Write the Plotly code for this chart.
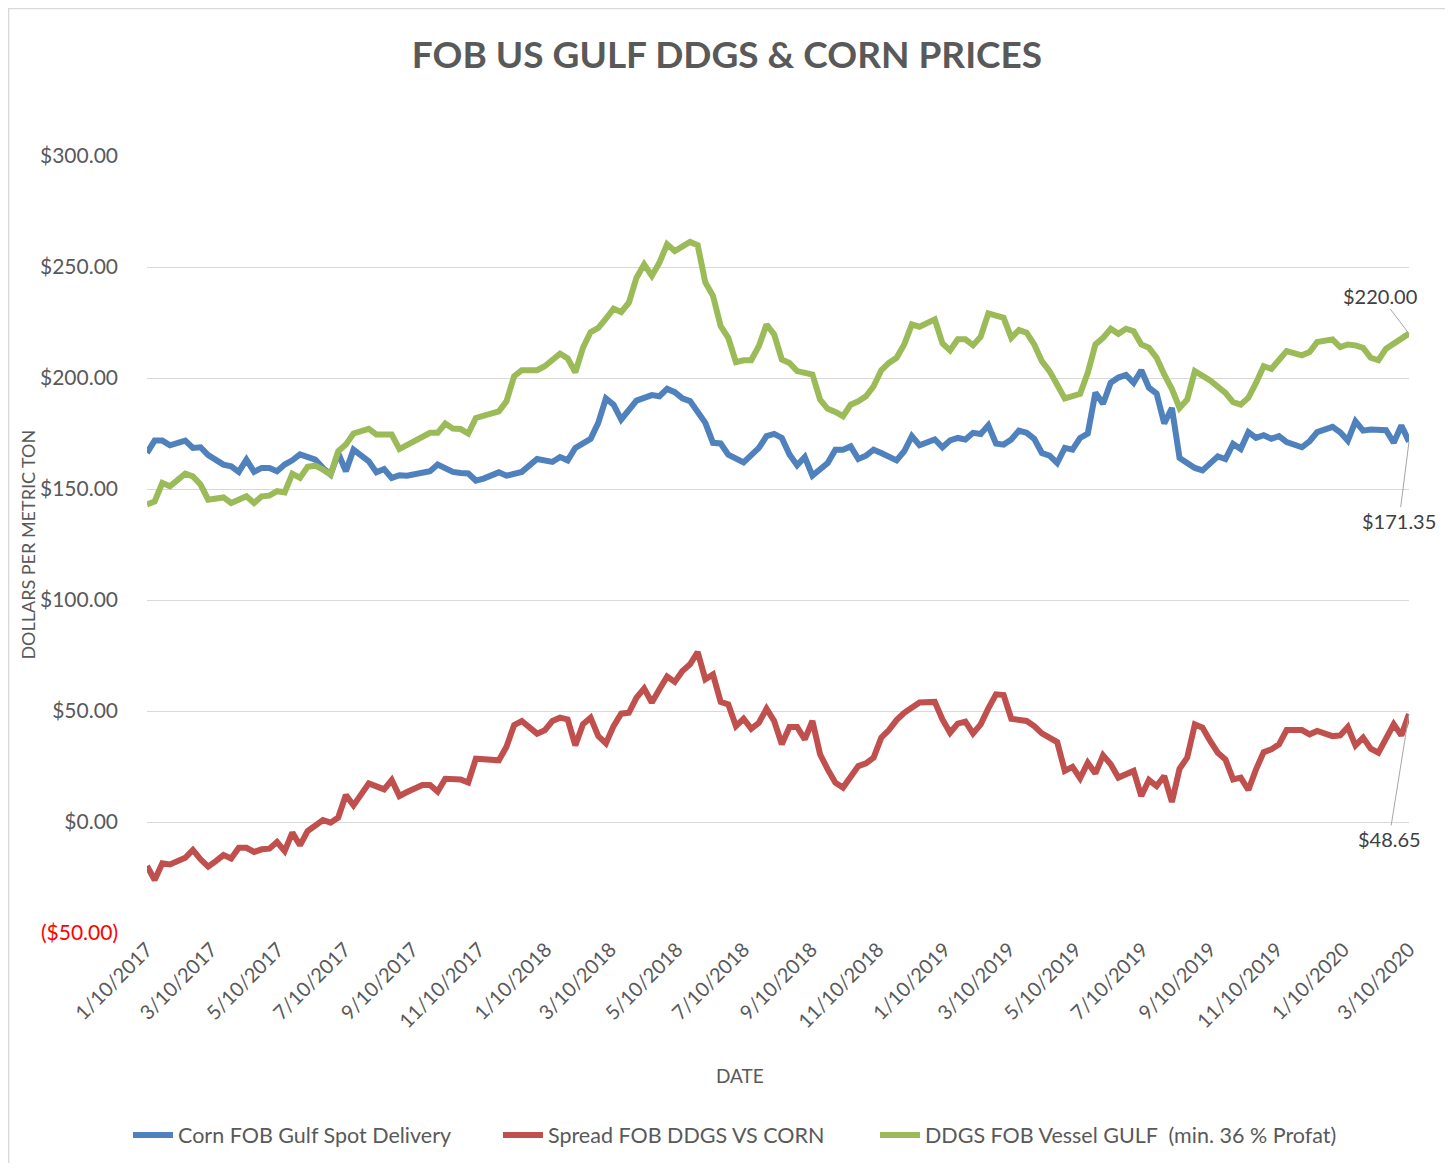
import plotly.graph_objects as go

# ---------------- DATA ----------------
corn_dates = [
    "2017-01-10","2017-01-17","2017-01-24","2017-01-31","2017-02-14","2017-02-21","2017-02-28","2017-03-07",
    "2017-03-21","2017-03-28","2017-04-04","2017-04-11","2017-04-18","2017-04-25","2017-05-02","2017-05-09",
    "2017-05-16","2017-05-23","2017-05-30","2017-06-06","2017-06-13","2017-06-20","2017-06-27","2017-07-04",
    "2017-07-11","2017-07-18","2017-08-01","2017-08-08","2017-08-15","2017-08-22","2017-08-29","2017-09-05",
    "2017-09-19","2017-09-26","2017-10-03","2017-10-17","2017-10-24","2017-10-31","2017-11-07","2017-11-14",
    "2017-11-28","2017-12-05","2017-12-19","2018-01-02","2018-01-16","2018-01-23","2018-01-30","2018-02-06",
    "2018-02-20","2018-02-27","2018-03-06","2018-03-13","2018-03-20","2018-03-27","2018-04-03","2018-04-17",
    "2018-04-24","2018-05-01","2018-05-08","2018-05-15","2018-05-22","2018-06-05","2018-06-12","2018-06-19",
    "2018-06-26","2018-07-10","2018-07-24","2018-07-31","2018-08-07","2018-08-14","2018-08-21","2018-08-28",
    "2018-09-04","2018-09-11","2018-09-18","2018-09-25","2018-10-02","2018-10-09","2018-10-16","2018-10-23",
    "2018-10-30","2018-11-06","2018-11-13","2018-11-27","2018-12-04","2018-12-11","2018-12-18","2019-01-01",
    "2019-01-08","2019-01-15","2019-01-22","2019-01-29","2019-02-05","2019-02-12","2019-02-19","2019-02-26",
    "2019-03-05","2019-03-12","2019-03-19","2019-03-26","2019-04-02","2019-04-09","2019-04-16","2019-04-23",
    "2019-04-30","2019-05-07","2019-05-14","2019-05-21","2019-05-28","2019-06-04","2019-06-11","2019-06-18",
    "2019-06-25","2019-07-02","2019-07-09","2019-07-16","2019-07-23","2019-07-30","2019-08-06","2019-08-13",
    "2019-08-20","2019-08-27","2019-09-03","2019-09-17","2019-09-24","2019-10-01","2019-10-08","2019-10-15",
    "2019-10-22","2019-10-29","2019-11-05","2019-11-12","2019-11-19","2019-12-03","2019-12-10","2019-12-17",
    "2019-12-31","2020-01-07","2020-01-14","2020-01-21","2020-01-28","2020-02-04","2020-02-18","2020-02-25",
    "2020-03-03","2020-03-10",
]
corn_vals = [
    166.2,171.8,171.8,169.7,171.8,168.5,168.8,165.3,
    161.0,160.2,157.7,163.2,157.7,159.5,159.5,158.0,
    161.0,162.9,165.6,164.7,163.2,159.5,156.5,166.2,
    158.0,167.7,162.5,157.5,159.0,155.0,156.2,156.0,
    157.2,158.0,161.0,157.7,157.2,157.0,153.8,154.7,
    157.5,156.0,157.7,163.5,162.2,164.4,162.9,168.5,
    172.6,179.8,190.8,188.0,181.3,185.5,189.8,192.3,
    191.8,195.1,193.6,190.8,189.6,179.8,170.8,170.5,
    165.5,162.0,168.5,173.8,174.8,173.0,165.5,160.7,
    164.4,156.0,159.0,161.7,167.7,167.7,169.2,163.5,
    165.0,167.7,166.2,162.9,167.0,173.8,169.7,172.3,
    168.8,171.9,173.0,172.3,175.3,174.8,178.7,170.5,
    170.0,172.3,176.3,175.3,172.6,166.2,165.0,161.7,
    168.5,167.7,173.0,175.0,193.4,188.4,197.9,200.2,
    201.4,197.8,203.5,195.6,193.0,179.5,186.5,164.0,
    161.7,159.5,158.4,164.7,163.5,170.3,168.0,175.6,
    173.0,174.2,172.6,173.8,171.1,168.8,171.5,175.6,
    178.0,175.6,171.8,180.5,176.3,176.8,176.5,170.8,
    178.6,171.35,
]

spread_dates = [
    "2017-01-10","2017-01-17","2017-01-24","2017-01-31","2017-02-14","2017-02-21","2017-02-28","2017-03-07",
    "2017-03-14","2017-03-21","2017-03-28","2017-04-04","2017-04-11","2017-04-18","2017-04-25","2017-05-02",
    "2017-05-09","2017-05-16","2017-05-23","2017-05-30","2017-06-06","2017-06-20","2017-06-27","2017-07-04",
    "2017-07-11","2017-07-18","2017-08-01","2017-08-15","2017-08-22","2017-08-29","2017-09-05","2017-09-19",
    "2017-09-26","2017-10-03","2017-10-10","2017-10-17","2017-10-24","2017-10-31","2017-11-07","2017-11-28",
    "2017-12-05","2017-12-12","2017-12-19","2018-01-02","2018-01-09","2018-01-16","2018-01-23","2018-01-30",
    "2018-02-06","2018-02-13","2018-02-20","2018-02-27","2018-03-06","2018-03-13","2018-03-20","2018-03-27",
    "2018-04-03","2018-04-10","2018-04-17","2018-04-24","2018-05-01","2018-05-08","2018-05-15","2018-05-22",
    "2018-05-29","2018-06-05","2018-06-12","2018-06-19","2018-06-26","2018-07-03","2018-07-10","2018-07-17",
    "2018-07-24","2018-07-31","2018-08-07","2018-08-14","2018-08-21","2018-08-28","2018-09-04","2018-09-11",
    "2018-09-18","2018-09-25","2018-10-02","2018-10-09","2018-10-16","2018-10-23","2018-10-30","2018-11-06",
    "2018-11-13","2018-11-20","2018-11-27","2018-12-04","2018-12-18","2019-01-01","2019-01-08","2019-01-15",
    "2019-01-22","2019-01-29","2019-02-05","2019-02-12","2019-02-19","2019-02-26","2019-03-05","2019-03-12",
    "2019-03-26","2019-04-02","2019-04-09","2019-04-23","2019-04-30","2019-05-07","2019-05-14","2019-05-21",
    "2019-05-28","2019-06-04","2019-06-11","2019-06-18","2019-07-02","2019-07-09","2019-07-16","2019-07-23",
    "2019-07-30","2019-08-06","2019-08-13","2019-08-20","2019-08-27","2019-09-03","2019-09-10","2019-09-17",
    "2019-09-24","2019-10-01","2019-10-08","2019-10-15","2019-10-22","2019-10-29","2019-11-05","2019-11-12",
    "2019-11-19","2019-12-03","2019-12-10","2019-12-17","2019-12-31","2020-01-07","2020-01-14","2020-01-21",
    "2020-01-28","2020-02-04","2020-02-11","2020-02-18","2020-02-25","2020-03-03","2020-03-10",
]
spread_vals = [
    -19.8,-26.1,-18.6,-19.1,-16.1,-12.6,-16.8,-20.1,
    -17.6,-14.9,-16.4,-11.6,-11.6,-13.5,-12.3,-12.0,
    -9.0,-13.1,-4.8,-10.5,-4.1,0.9,-0.3,2.0,
    12.2,7.5,17.4,14.7,18.9,11.7,13.5,16.7,
    16.7,13.7,19.5,19.2,19.2,17.8,28.5,27.8,
    33.9,43.7,45.5,39.8,41.3,45.5,47.0,46.2,
    34.5,44.0,47.0,38.7,35.4,43.2,48.8,49.2,
    56.0,60.1,53.8,59.8,65.5,63.1,68.0,71.0,
    76.6,64.3,66.5,54.1,53.0,43.2,46.5,42.0,
    44.7,51.0,45.5,35.0,42.8,42.8,37.2,45.5,
    30.5,23.7,17.7,15.5,20.0,25.2,26.4,29.0,
    38.0,41.4,45.9,49.2,53.8,54.1,46.2,40.2,
    44.3,45.2,39.9,44.0,51.2,57.5,57.2,46.5,
    45.5,43.2,39.9,36.0,23.0,24.8,19.7,26.7,
    21.9,30.0,26.0,20.0,23.0,11.7,18.9,16.2,
    20.7,9.0,24.0,29.0,44.0,42.5,36.5,31.2,
    28.2,19.2,20.0,14.4,23.7,31.5,32.7,35.0,
    41.4,41.4,39.5,41.0,38.7,39.0,42.8,34.5,
    38.0,33.0,31.2,37.2,44.0,39.0,48.65,
]

ddgs_dates = [
    "2017-01-10","2017-01-17","2017-01-24","2017-01-31","2017-02-14","2017-02-21","2017-02-28","2017-03-07",
    "2017-03-21","2017-03-28","2017-04-11","2017-04-18","2017-04-25","2017-05-02","2017-05-09","2017-05-16",
    "2017-05-23","2017-05-30","2017-06-06","2017-06-13","2017-06-20","2017-06-27","2017-07-04","2017-07-11",
    "2017-07-18","2017-08-01","2017-08-08","2017-08-22","2017-08-29","2017-09-05","2017-09-19","2017-09-26",
    "2017-10-03","2017-10-10","2017-10-17","2017-10-24","2017-10-31","2017-11-07","2017-11-28","2017-12-05",
    "2017-12-12","2017-12-19","2018-01-02","2018-01-09","2018-01-23","2018-01-30","2018-02-06","2018-02-13",
    "2018-02-20","2018-02-27","2018-03-06","2018-03-13","2018-03-20","2018-03-27","2018-04-03","2018-04-10",
    "2018-04-17","2018-04-24","2018-05-01","2018-05-08","2018-05-22","2018-05-29","2018-06-05","2018-06-12",
    "2018-06-19","2018-06-26","2018-07-03","2018-07-10","2018-07-17","2018-07-24","2018-07-31","2018-08-07",
    "2018-08-14","2018-08-21","2018-08-28","2018-09-11","2018-09-18","2018-09-25","2018-10-02","2018-10-09",
    "2018-10-16","2018-10-23","2018-10-30","2018-11-06","2018-11-13","2018-11-20","2018-11-27","2018-12-04",
    "2018-12-11","2018-12-18","2019-01-01","2019-01-08","2019-01-15","2019-01-22","2019-01-29","2019-02-05",
    "2019-02-12","2019-02-19","2019-03-05","2019-03-12","2019-03-19","2019-03-26","2019-04-02","2019-04-09",
    "2019-04-16","2019-04-23","2019-04-30","2019-05-07","2019-05-14","2019-05-21","2019-05-28","2019-06-04",
    "2019-06-11","2019-06-18","2019-06-25","2019-07-02","2019-07-09","2019-07-16","2019-07-23","2019-07-30",
    "2019-08-06","2019-08-13","2019-08-20","2019-08-27","2019-09-10","2019-09-24","2019-10-01","2019-10-08",
    "2019-10-15","2019-10-22","2019-10-29","2019-11-05","2019-11-19","2019-12-03","2019-12-10","2019-12-17",
    "2019-12-31","2020-01-07","2020-01-14","2020-01-21","2020-01-28","2020-02-04","2020-02-11","2020-02-18",
    "2020-02-25","2020-03-03","2020-03-10",
]
ddgs_vals = [
    143.0,144.4,152.7,151.2,156.9,155.7,152.0,145.2,
    146.2,143.7,146.7,143.7,146.7,147.0,149.0,148.5,
    156.9,155.0,160.0,160.5,158.7,156.5,167.0,170.0,
    175.0,177.1,174.5,174.5,168.0,170.0,173.8,175.3,
    175.3,179.5,177.2,177.0,175.0,182.0,185.0,189.5,
    200.8,203.5,203.5,205.3,211.0,208.8,202.6,213.6,
    220.7,222.6,226.7,231.2,229.7,233.9,245.2,251.2,
    246.0,252.0,260.2,257.2,261.3,259.8,243.0,237.0,
    223.4,218.1,207.1,208.0,208.0,214.4,224.1,219.6,
    208.3,206.8,203.1,201.6,190.3,186.1,184.7,182.8,
    188.0,189.5,191.8,196.3,203.5,206.8,209.1,215.1,
    224.1,223.1,226.4,215.6,212.4,217.4,217.4,214.8,
    218.6,229.1,227.1,218.1,221.6,220.4,215.1,207.6,
    203.1,197.4,190.8,191.8,192.9,202.3,215.1,218.1,
    222.2,219.9,222.2,221.1,215.1,213.6,209.1,201.6,
    195.0,186.5,190.3,203.1,198.9,193.3,189.1,188.0,
    191.1,197.8,205.3,204.1,212.1,210.2,211.7,216.2,
    217.4,213.9,215.1,214.7,213.6,209.1,208.0,213.2,
    215.6,217.7,220.0,
]

x_tick_dates = [
    "2017-01-10","2017-03-10","2017-05-10","2017-07-10","2017-09-10","2017-11-10",
    "2018-01-10","2018-03-10","2018-05-10","2018-07-10","2018-09-10","2018-11-10",
    "2019-01-10","2019-03-10","2019-05-10","2019-07-10","2019-09-10","2019-11-10",
    "2020-01-10","2020-03-10",
]
x_tick_labels = [
    "1/10/2017","3/10/2017","5/10/2017","7/10/2017","9/10/2017","11/10/2017",
    "1/10/2018","3/10/2018","5/10/2018","7/10/2018","9/10/2018","11/10/2018",
    "1/10/2019","3/10/2019","5/10/2019","7/10/2019","9/10/2019","11/10/2019",
    "1/10/2020","3/10/2020",
]
y_tick_vals = [-50, 0, 50, 100, 150, 200, 250, 300]
y_tick_labels = ["<span style='color:#FF0000'>($50.00)</span>", "$0.00", "$50.00", "$100.00",
                 "$150.00", "$200.00", "$250.00", "$300.00"]

series_names = ["Corn FOB Gulf Spot Delivery", "Spread FOB DDGS VS CORN",
                "DDGS FOB Vessel GULF  (min. 36 % Profat)"]
series_colors = ["#4F81BD", "#C0504D", "#9BBB59"]

# ---------------- FIGURE ----------------
FONT = "Lato, 'Open Sans', sans-serif"
GRAY = "#595959"
W, H = 1445, 1155          # page body has an 8px margin

fig = go.Figure()
legend_ids = ["legend", "legend2", "legend3"]
for dates, vals, name, color, lg in [
    (corn_dates, corn_vals, series_names[0], series_colors[0], legend_ids[0]),
    (spread_dates, spread_vals, series_names[1], series_colors[1], legend_ids[1]),
    (ddgs_dates, ddgs_vals, series_names[2], series_colors[2], legend_ids[2]),
]:
    fig.add_trace(go.Scatter(x=dates, y=vals, mode="lines", name=name, legend=lg,
                             line=dict(color=color, width=6, shape="linear")))

# end-point data labels with leader lines
for dates, vals, ax, ay in [
    (ddgs_dates, ddgs_vals, -29, -38),
    (corn_dates, corn_vals, -10, 79),
    (spread_dates, spread_vals, -20, 125),
]:
    fig.add_annotation(x=dates[-1], y=vals[-1], xref="x", yref="y",
                       text=f"${vals[-1]:.2f}", showarrow=True, arrowhead=0,
                       arrowwidth=1, arrowcolor="#A6A6A6", ax=ax, ay=ay,
                       standoff=0, startstandoff=0,
                       font=dict(family=FONT, size=20, color="#404040"))

# axis titles as annotations
fig.add_annotation(text="DOLLARS PER METRIC TON", textangle=-90, xref="paper", yref="paper",
                   x=-0.095, y=0.5, showarrow=False, xanchor="center", yanchor="middle",
                   font=dict(family=FONT, size=18, color=GRAY))
fig.add_annotation(text="DATE", xref="paper", yref="paper", x=0.47, y=-0.183,
                   showarrow=False, xanchor="center", yanchor="middle",
                   font=dict(family=FONT, size=19, color=GRAY))

# chart border
fig.add_shape(type="rect", xref="paper", yref="paper", x0=-0.1097, x1=1.0301, y0=-0.32, y1=1.1898,
              line=dict(color="#D9D9D9", width=1.5), fillcolor="rgba(0,0,0,0)", layer="below")

def legend_box(screen_x):
    return dict(orientation="h", x=(screen_x - 8) / W, xref="container", xanchor="left",
                y=1 - 1127 / H, yref="container", yanchor="middle",
                font=dict(family=FONT, size=21.5, color=GRAY),
                itemwidth=40, bgcolor="rgba(0,0,0,0)")

fig.update_layout(
    width=W, height=H,
    margin=dict(l=139, r=44, t=148, b=230),
    paper_bgcolor="white", plot_bgcolor="white",
    font=dict(family=FONT, color=GRAY),
    title=dict(text="<b>FOB US GULF DDGS &amp; CORN PRICES</b>", x=719 / W, xref="container",
               y=1 - 47 / H, yref="container", xanchor="center", yanchor="middle",
               font=dict(family=FONT, size=37, color=GRAY)),
    showlegend=True,
    legend=legend_box(128),
    legend2=legend_box(498),
    legend3=legend_box(875),
    xaxis=dict(type="date", range=["2017-01-10", "2020-03-10"],
               tickvals=x_tick_dates, ticktext=x_tick_labels, tickangle=-45,
               tickfont=dict(family=FONT, size=20, color=GRAY),
               showgrid=False, zeroline=False, showline=False, ticks=""),
    yaxis=dict(range=[-50, 300], tickvals=y_tick_vals, ticktext=y_tick_labels,
               tickfont=dict(family=FONT, size=21, color=GRAY),
               showgrid=True, gridcolor="#D9D9D9", gridwidth=1.3, zeroline=False,
               showline=False, ticks="", ticklabelstandoff=28),
)

fig.write_html("out.html")
